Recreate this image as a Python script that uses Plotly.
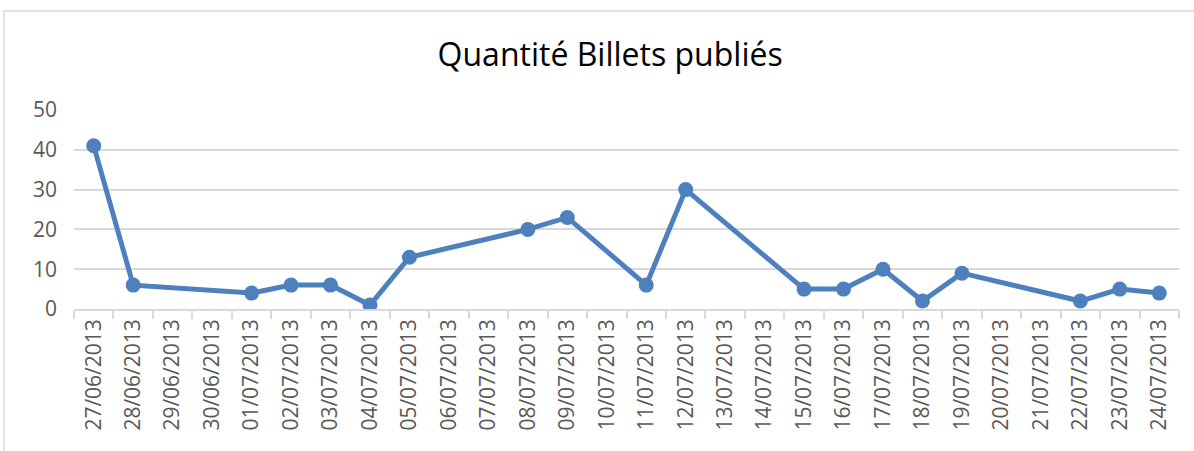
"""Line chart of the number of posts published per day."""

import pandas as pd
import plotly.graph_objects as go

# every day shown on the axis
all_days = [d.strftime('%d/%m/%Y') for d in pd.date_range('2013-06-27', '2013-07-24')]

# days with posts and their counts
post_days = [
    '27/06/2013', '28/06/2013', '01/07/2013', '02/07/2013', '03/07/2013',
    '04/07/2013', '05/07/2013', '08/07/2013', '09/07/2013', '11/07/2013',
    '12/07/2013', '15/07/2013', '16/07/2013', '17/07/2013', '18/07/2013',
    '19/07/2013', '22/07/2013', '23/07/2013', '24/07/2013',
]
post_counts = [41, 6, 4, 6, 6, 1, 13, 20, 23, 6, 30, 5, 5, 10, 2, 9, 2, 5, 4]

LINE_COLOR = '#4e80bd'
TEXT_COLOR = '#595959'
GRID_COLOR = '#d9d9d9'

fig = go.Figure()
fig.add_trace(
    go.Scatter(
        x=post_days,
        y=post_counts,
        mode='lines+markers',
        line=dict(color=LINE_COLOR, width=5),
        marker=dict(color=LINE_COLOR, size=15),
        showlegend=False,
    )
)

# chart frame like the spreadsheet border
fig.add_shape(
    type='rect', xref='paper', yref='paper',
    x0=-0.0633, x1=1.05, y0=-0.95, y1=1.497,
    line=dict(color=GRID_COLOR, width=1.5),
)

fig.update_layout(
    title=dict(
        text='Quantité Billets publiés',
        font=dict(family='Open Sans', size=32, color='black'),
        x=0.511, xanchor='center', y=0.878, yanchor='middle',
    ),
    font=dict(family='Open Sans', color=TEXT_COLOR),
    plot_bgcolor='white',
    paper_bgcolor='white',
    width=1194,
    height=451,
    margin=dict(l=74, r=15, t=110, b=142),
    xaxis=dict(
        type='category',
        categoryorder='array',
        categoryarray=all_days,
        tickvals=all_days,
        tickson='boundaries',
        ticks='outside',
        ticklen=8,
        tickcolor=GRID_COLOR,
        tickwidth=1.5,
        tickangle=-90,
        tickfont=dict(size=21, color=TEXT_COLOR),
        showgrid=False,
        showline=True,
        linecolor=GRID_COLOR,
        linewidth=1.5,
        automargin=False,
        range=[-0.5, len(all_days) - 0.5],
    ),
    yaxis=dict(
        range=[0, 50],
        tickvals=[0, 10, 20, 30, 40, 50],
        tickfont=dict(size=21, color=TEXT_COLOR),
        showgrid=True,
        gridcolor=GRID_COLOR,
        gridwidth=1.5,
        zeroline=False,
        showline=False,
        automargin=False,
        ticklabelstandoff=16,
    ),
)

# drop the default page margin so the figure sits at the window corner
fig.write_html(
    'out.html',
    config={'displayModeBar': False},
    post_script="document.body.style.margin='0';",
)
